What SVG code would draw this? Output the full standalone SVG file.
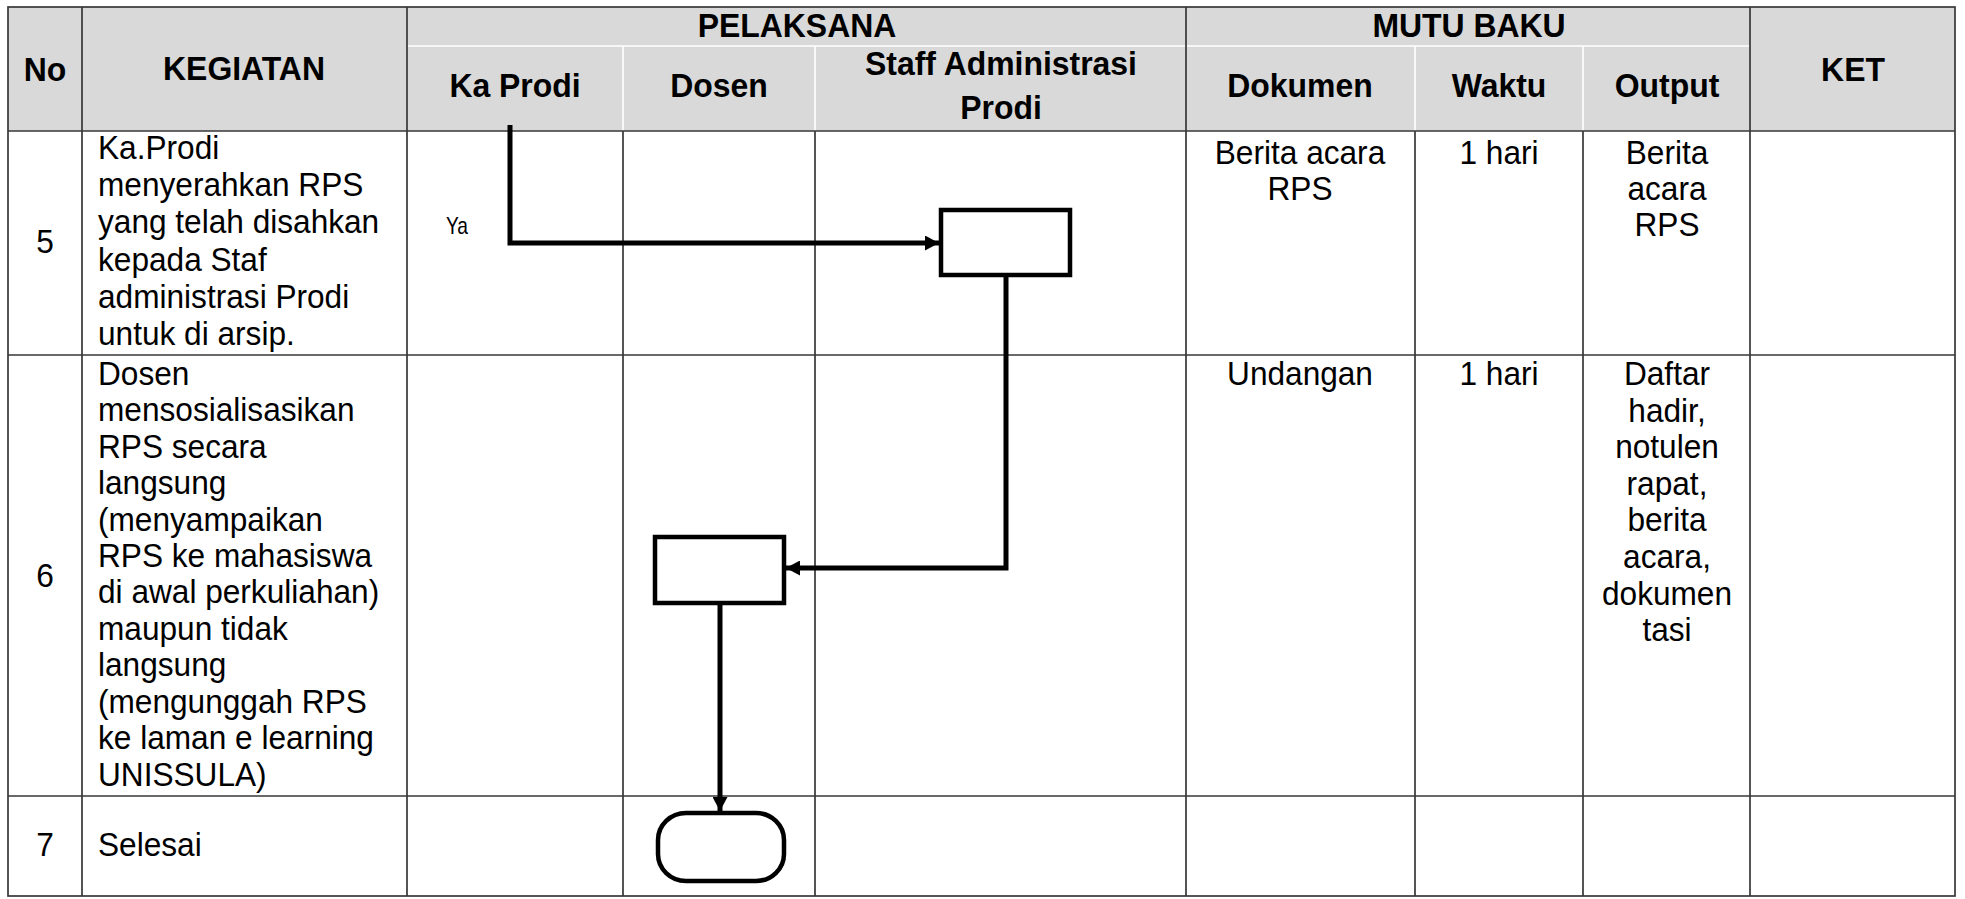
<svg xmlns="http://www.w3.org/2000/svg" width="1965" height="899" viewBox="0 0 1965 899">
<style>
.t{font-family:"Liberation Sans",Arial,sans-serif;font-size:31px;fill:#000}
.h{font-weight:bold;font-size:31px}
.m{text-anchor:middle}
.dk{stroke:#383838;stroke-width:1.7;fill:none}
.wh{stroke:#ffffff;stroke-width:1.6;fill:none}
.box{fill:#fff;stroke:#000;stroke-width:4.5}
.con{fill:none;stroke:#000;stroke-width:5}
</style>
<defs>
<marker id="arr" markerUnits="userSpaceOnUse" markerWidth="15" markerHeight="15" refX="14" refY="7.5" orient="auto">
<path d="M0,0 L14,7.5 L0,15 z" fill="#000"/>
</marker>
</defs>
<rect x="0" y="0" width="1965" height="899" fill="#fff"/>
<g id="table">
<rect x="8" y="7" width="1947" height="124" fill="#d9d9d9"/>
<path class="wh" d="M407,46 H1750 M623,46 V131 M815,46 V131 M1415,46 V131 M1583,46 V131"/>
<path class="dk" d="M82,7 V896 M407,7 V896 M1186,7 V896 M1750,7 V896 M623,131 V896 M815,131 V896 M1415,131 V896 M1583,131 V896 M8,131 H1955 M8,355 H1955 M8,796 H1955"/>
<rect class="dk" x="8" y="7" width="1947" height="889" stroke-width="2.2"/>
</g>
<g id="header">
<text class="t h m" transform="translate(45,81) scale(1.03,1.1)">No</text>
<text class="t h m" transform="translate(244,80) scale(1.03,1.1)">KEGIATAN</text>
<text class="t h m" transform="translate(797,37) scale(1.03,1.1)">PELAKSANA</text>
<text class="t h m" transform="translate(1469,37) scale(1.03,1.1)">MUTU BAKU</text>
<text class="t h m" transform="translate(1853,81) scale(1.03,1.1)">KET</text>
<text class="t h m" transform="translate(515,97) scale(1.03,1.1)">Ka Prodi</text>
<text class="t h m" transform="translate(719,97) scale(1.03,1.1)">Dosen</text>
<text class="t h m" transform="translate(1001,75) scale(1.03,1.1)">Staff Administrasi</text>
<text class="t h m" transform="translate(1001,119) scale(1.03,1.1)">Prodi</text>
<text class="t h m" transform="translate(1300,97) scale(1.03,1.1)">Dokumen</text>
<text class="t h m" transform="translate(1499,97) scale(1.03,1.1)">Waktu</text>
<text class="t h m" transform="translate(1667,97) scale(1.03,1.1)">Output</text>
</g>
<g id="row5">
<text class="t m" transform="translate(45,253) scale(1.02,1.1)">5</text>
<text class="t" transform="translate(98,159) scale(1.02,1.1)"><tspan x="0" y="0">Ka.Prodi</tspan><tspan x="0" dy="33.8">menyerahkan RPS</tspan><tspan x="0" dy="33.8">yang telah disahkan</tspan><tspan x="0" dy="33.8">kepada Staf</tspan><tspan x="0" dy="33.8">administrasi Prodi</tspan><tspan x="0" dy="33.8">untuk di arsip.</tspan></text>
<text class="t" transform="translate(446,234) scale(0.8,1)" style="font-size:24px">Ya</text>
<text class="t m" transform="translate(1300,164) scale(1.02,1.1)"><tspan x="0" y="0">Berita acara</tspan><tspan x="0" dy="32.3">RPS</tspan></text>
<text class="t m" transform="translate(1499,164) scale(1.02,1.1)">1 hari</text>
<text class="t m" transform="translate(1667,164) scale(1.02,1.1)"><tspan x="0" y="0">Berita</tspan><tspan x="0" dy="32.7">acara</tspan><tspan x="0" dy="32.7">RPS</tspan></text>
</g>
<g id="row6">
<text class="t m" transform="translate(45,587) scale(1.02,1.1)">6</text>
<text class="t" transform="translate(98,385) scale(1.02,1.1)"><tspan x="0" y="0">Dosen</tspan><tspan x="0" dy="33.1">mensosialisasikan</tspan><tspan x="0" dy="33.1">RPS secara</tspan><tspan x="0" dy="33.1">langsung</tspan><tspan x="0" dy="33.1">(menyampaikan</tspan><tspan x="0" dy="33.1">RPS ke mahasiswa</tspan><tspan x="0" dy="33.1">di awal perkuliahan)</tspan><tspan x="0" dy="33.1">maupun tidak</tspan><tspan x="0" dy="33.1">langsung</tspan><tspan x="0" dy="33.1">(mengunggah RPS</tspan><tspan x="0" dy="33.1">ke laman e learning</tspan><tspan x="0" dy="33.1">UNISSULA)</tspan></text>
<text class="t m" transform="translate(1300,385) scale(1.02,1.1)">Undangan</text>
<text class="t m" transform="translate(1499,385) scale(1.02,1.1)">1 hari</text>
<text class="t m" transform="translate(1667,385) scale(1.02,1.1)"><tspan x="0" y="0">Daftar</tspan><tspan x="0" dy="33.27">hadir,</tspan><tspan x="0" dy="33.27">notulen</tspan><tspan x="0" dy="33.27">rapat,</tspan><tspan x="0" dy="33.27">berita</tspan><tspan x="0" dy="33.27">acara,</tspan><tspan x="0" dy="33.27">dokumen</tspan><tspan x="0" dy="33.27">tasi</tspan></text>
</g>
<g id="row7">
<text class="t m" transform="translate(45,856) scale(1.02,1.1)">7</text>
<text class="t" transform="translate(98,856) scale(1.02,1.1)">Selesai</text>
</g>
<g id="node-staff"><rect class="box" x="941" y="210" width="129" height="65"/></g>
<g id="node-dosen"><rect class="box" x="655" y="537" width="129" height="66"/></g>
<g id="node-end"><rect class="box" x="658" y="813" width="126" height="68" rx="28" ry="27"/></g>
<g id="connectors">
<path class="con" d="M510,125 V243 H939" marker-end="url(#arr)"/>
<path class="con" d="M1006,275 V568 H786" marker-end="url(#arr)"/>
<path class="con" d="M720,603 V811" marker-end="url(#arr)"/>
</g>
</svg>
